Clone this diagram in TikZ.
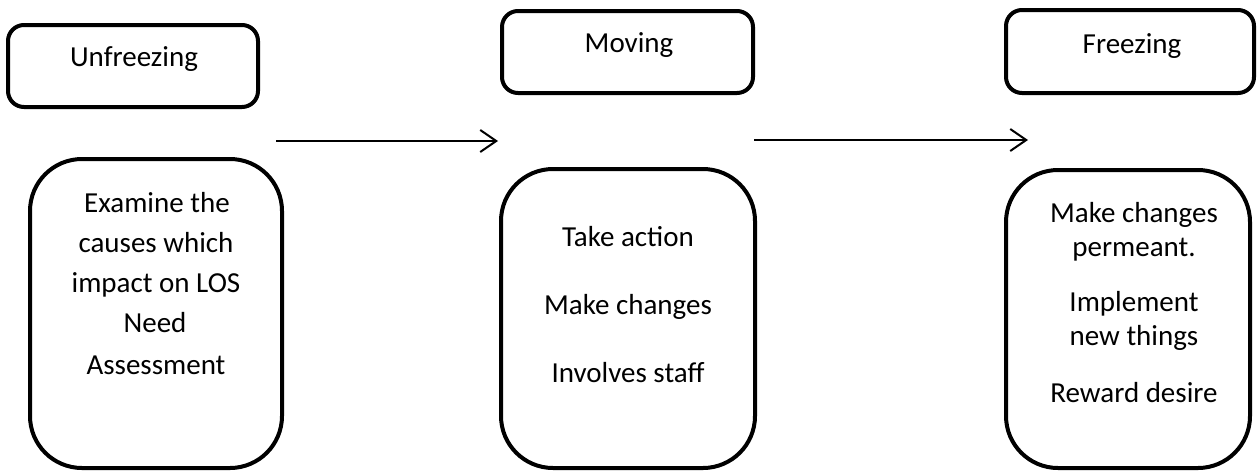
\documentclass[tikz,border=0pt]{standalone}
\usepackage{fontspec}
\setmainfont{Carlito}
\usetikzlibrary{arrows.meta}
\begin{document}
\begin{tikzpicture}[x=1pt,y=-1pt,
  sbox/.style={draw,line width=4pt,rounded corners=16pt,inner sep=0pt},
  bbox/.style={draw,line width=4pt,rounded corners=52pt,inner sep=0pt},
  txt/.style={anchor=base,inner sep=0pt,font=\fontsize{29}{35}\selectfont},
  arr/.style={line width=2pt,-{Straight Barb[length=16pt,width=22pt,line width=2pt]}}]
\useasboundingbox (0,0) rectangle (1257,472);
% stage boxes
\node[sbox,minimum width=250pt,minimum height=82pt] (s1) at (133,66) {};
\node[bbox,minimum width=252pt,minimum height=309pt] (b1) at (156,313.5) {};
\node[sbox,minimum width=251pt,minimum height=82pt] (s2) at (627.5,52) {};
\node[bbox,minimum width=254pt,minimum height=299pt] (b2) at (628,318.5) {};
\node[sbox,minimum width=248pt,minimum height=83pt] (s3) at (1130,51.5) {};
\node[bbox,minimum width=244pt,minimum height=298pt] (b3) at (1128,319) {};
% titles
\node[txt] (t1) at (134,66) {Unfreezing};
\node[txt] (t2) at (629,52) {Moving};
\node[txt] (t3) at (1132,53) {Freezing};
% box 1 text
\node[txt] (a1) at (157,212) {Examine the};
\node[txt] (a2) at (156,252) {causes which};
\node[txt] (a3) at (156,292) {impact on LOS};
\node[txt] (a4) at (155,332) {Need};
\node[txt] (a5) at (156,374) {Assessment};
% box 2 text
\node[txt] (m1) at (628,246) {Take action};
\node[txt] (m2) at (628,314) {Make changes};
\node[txt] (m3) at (628,382) {Involves staff};
% box 3 text
\node[txt] (f1) at (1134,222) {Make changes};
\node[txt] (f2) at (1134,256) {permeant.};
\node[txt] (f3) at (1134,311) {Implement};
\node[txt] (f4) at (1134,345) {new things};
\node[txt] (f5) at (1134,402) {Reward desire};
% arrows
\coordinate (p1) at (276,141);
\coordinate (q1) at (498,141);
\coordinate (p2) at (754,140);
\coordinate (q2) at (1028,140);
\draw[arr] (p1) -- (q1);
\draw[arr] (p2) -- (q2);
\end{tikzpicture}
\end{document}
